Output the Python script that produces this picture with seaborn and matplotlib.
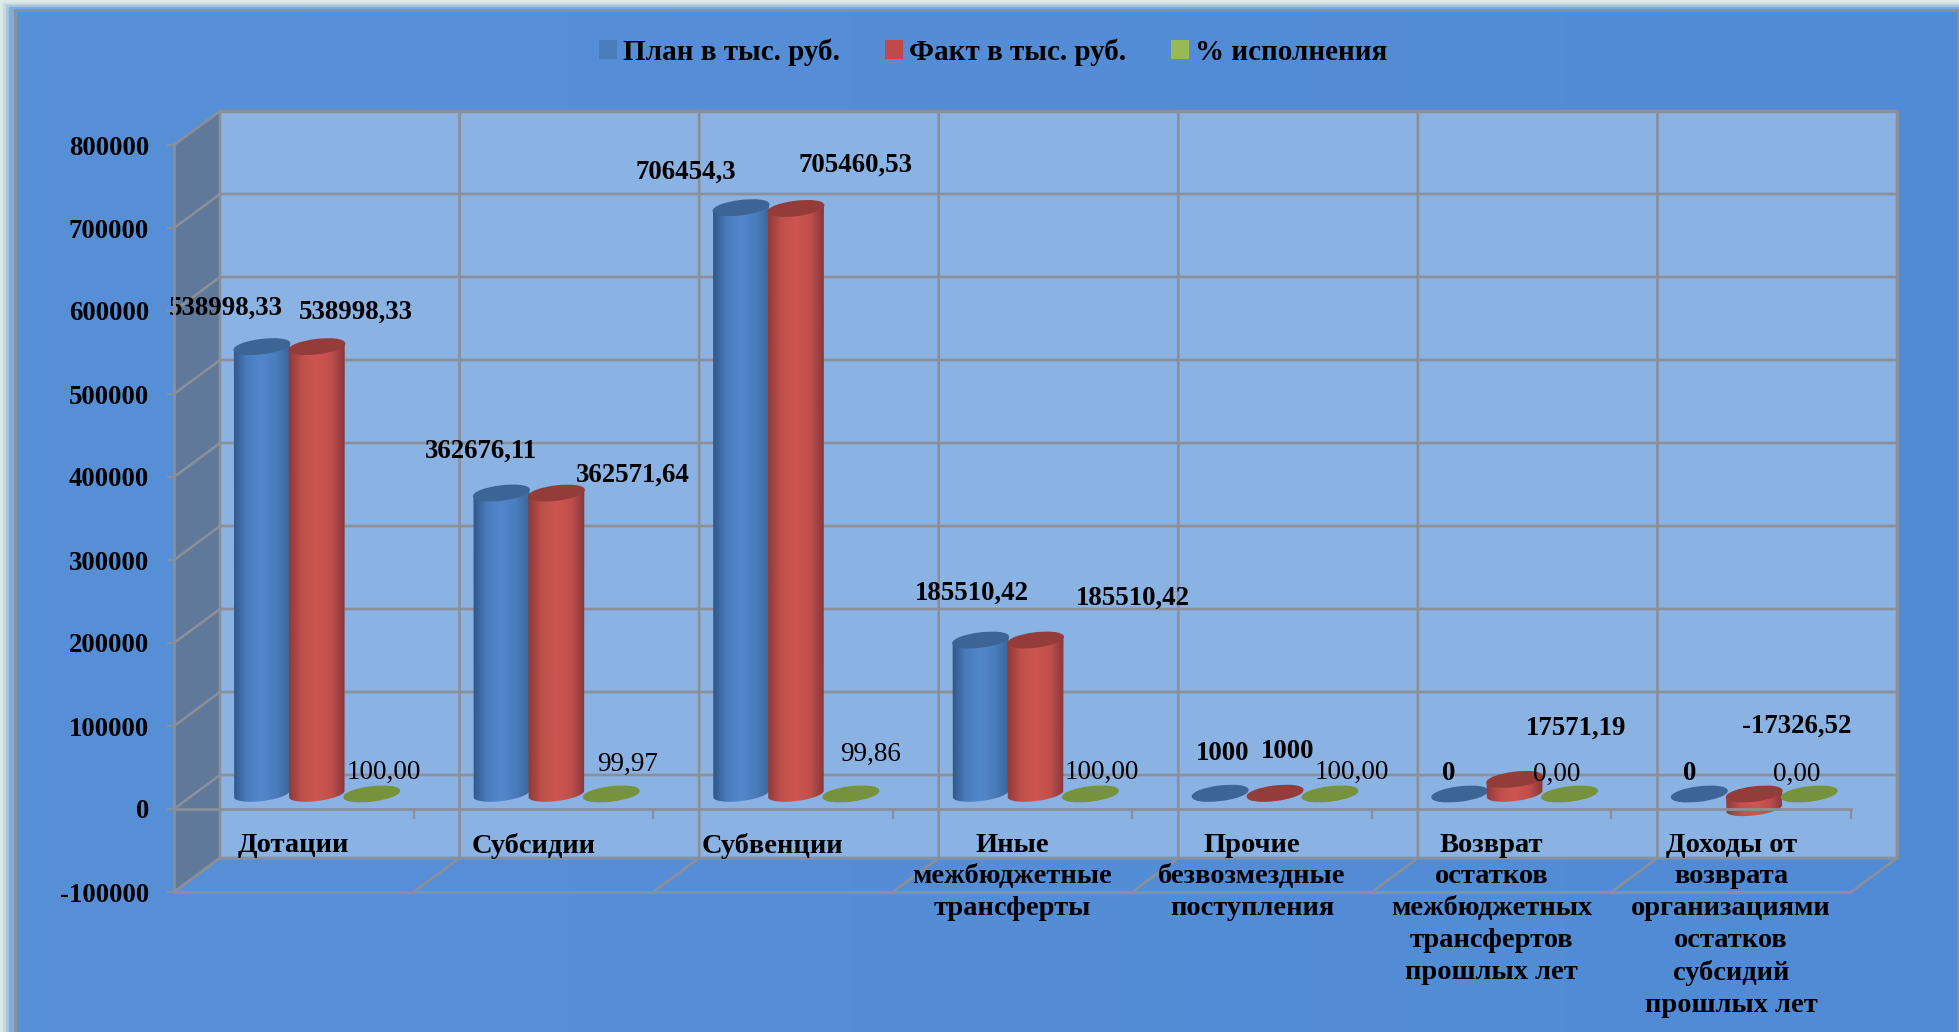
import numpy as np
import pandas as pd
import seaborn as sns
import matplotlib.pyplot as plt
from matplotlib.colors import LinearSegmentedColormap
from matplotlib.patches import Polygon, Ellipse, Rectangle

# данные
categories = ["Дотации", "Субсидии", "Субвенции", "Иные\nмежбюджетные\nтрансферты",
              "Прочие\nбезвозмездные\nпоступления",
              "Возврат\nостатков\nмежбюджетных\nтрансфертов\nпрошлых лет",
              "Доходы от\nвозврата\nорганизациями\nостатков\nсубсидий\nпрошлых лет"]
plan = [538998.33, 362676.11, 706454.3, 185510.42, 1000, 0, 0]
fact = [538998.33, 362571.64, 705460.53, 185510.42, 1000, 17571.19, -17326.52]
percent = [100.00, 99.97, 99.86, 100.00, 100.00, 0.00, 0.00]
series = ["План в тыс. руб.", "Факт в тыс. руб.", "% исполнения"]
y_ticks = [-100000, 0, 100000, 200000, 300000, 400000, 500000, 600000, 700000, 800000]

# подписи стоят вручную, как в исходной картинке (пиксели)
plan_label_xy = [(226, 308), (481, 451), (686, 172), (972, 593), (1223, 753), (1449, 773), (1690, 773)]
fact_label_xy = [(356, 312), (633, 475), (856, 165), (1133, 598), (1288, 751), (1576, 728), (1797, 726)]
pct_label_xy = [(384, 772), (628, 764), (871, 754), (1102, 772), (1352, 772), (1557, 774), (1797, 774)]

W, H = 1959, 1032
sns.set_theme(style="white")
plt.rcParams["font.family"] = ["Liberation Serif", "DejaVu Serif"]

df = pd.DataFrame({"cat": categories * 3,
                   "series": np.repeat(series, 7),
                   "value": plan + fact + percent})

fig = plt.figure(figsize=(W / 100, H / 100), dpi=100)

# слой с фоном, стенками и цилиндрами, координаты в пикселях (y вниз)
ov = fig.add_axes([0, 0, 1, 1], zorder=1)
ov.set_xlim(0, W)
ov.set_ylim(H, 0)
ov.axis("off")
ov.set_autoscale_on(False)

# передняя плоскость диаграммы
ax = fig.add_axes([174 / W, (H - 892) / H, 1677 / W, 747 / H], zorder=2)
ax.patch.set_visible(False)

legend_colors = ["#4a7ebb", "#be4b48", "#98b954"]
sns.barplot(data=df, x="cat", y="value", hue="series", order=categories, hue_order=series,
            palette=legend_colors, width=0.6875, saturation=1, ax=ax)
ax.set_xlim(-0.5, 6.5)
ax.set_ylim(-100000, 800000)
ax.set_xlabel("")
ax.set_ylabel("")
ax.set_yticks(y_ticks)
ax.set_yticklabels([str(v) for v in y_ticks], fontsize=19.3, fontweight="bold", color="black")
ax.tick_params(axis="y", length=5, width=1.6, color="#8a8f98", pad=13, left=True)
# set_position сбрасывает тики оси x, поэтому он идет первым
for s in ["top", "right"]:
    ax.spines[s].set_visible(False)
ax.spines["bottom"].set_position(("data", 0))
ax.spines["bottom"].set_color("#8a8f98")
ax.spines["bottom"].set_linewidth(2)
ax.spines["left"].set_color("#8a8f98")
ax.spines["left"].set_linewidth(2)
ax.set_xticks(np.arange(0.5, 7.5, 1), minor=True)
ax.set_xticks(range(7))
ax.set_xticklabels(categories)
ax.tick_params(axis="x", which="major", length=0, pad=17)
ax.tick_params(axis="x", which="minor", length=7, width=1.6, color="#8a8f98", bottom=True)
for lab in ax.get_xticklabels():
    lab.set_fontsize(20.5)
    lab.set_fontweight("bold")
    lab.set_color("black")
    lab.set_linespacing(1.36)

sns.move_legend(ax, "center", bbox_to_anchor=(993 / W, (H - 52) / H), bbox_transform=fig.transFigure,
                ncol=3, frameon=False, title=None, handlelength=0.62, handleheight=0.62,
                handletextpad=0.2, columnspacing=1.55, labelcolor="black",
                prop={"size": 21, "weight": "bold"})
for h in ax.get_legend().legend_handles:
    h.set_edgecolor("none")


def to_px(x, y):
    px, py = ax.transData.transform((x, y))
    return px, H - py


# смещения плоскостей относительно передней
BACK = (46, -34)
MID = (23, -15)
GRID = "#8a8f98"

# фон
ov.add_patch(Rectangle((0, 0), W, H, color="#dce9e4", zorder=0))
for i, c in enumerate(["#c6dbe2", "#a9c8e0", "#80abdc"]):
    ov.add_patch(Rectangle((3 + 3 * i, 3 + 2 * i), W, H, color=c, zorder=0.1))
bg_cmap = LinearSegmentedColormap.from_list("bg", ["#5890d8", "#518bd5"])
ov.imshow(np.linspace(0, 1, 256).reshape(1, -1), extent=(15, W, H, 10), cmap=bg_cmap,
          aspect="auto", zorder=0.2)
ov.plot([15, 15, W - 1, W - 1], [H, 10, 10, H], color=GRID, lw=2.2, zorder=0.3)

# стенки
x0, y_low = to_px(-0.5, -100000)
x1, _ = to_px(6.5, 0)
_, y_high = to_px(-0.5, 800000)
bx, by = BACK
ov.add_patch(Rectangle((x0 + bx, y_high + by), x1 - x0, y_low - y_high, color="#8ab2e2", zorder=1))
ov.add_patch(Polygon([(x0, y_high), (x0 + bx, y_high + by), (x0 + bx, y_low + by), (x0, y_low)],
                     color="#60789a", zorder=1))
for v in y_ticks:
    _, y = to_px(-0.5, v)
    ov.plot([x0, x0 + bx, x1 + bx], [y, y + by, y + by], color=GRID, lw=1.9, zorder=1.2)
for k in np.arange(-0.5, 7, 1):
    x, _ = to_px(k, 0)
    ov.plot([x, x + bx, x + bx], [y_low, y_low + by, y_high + by], color=GRID, lw=1.9, zorder=1.2)
ov.plot([x0, x1], [y_low, y_low], color=GRID, lw=2.4, zorder=1.2)
ov.plot([x1 + bx, x1 + bx], [y_high + by, y_low + by], color=GRID, lw=1.9, zorder=1.2)
ov.plot([x0 + bx, x1 + bx], [y_high + by, y_high + by], color=GRID, lw=2.4, zorder=1.2)
ax.spines["left"].set_bounds(-100000, 800000)

# цилиндры из столбиков seaborn
body_cmaps = [
    LinearSegmentedColormap.from_list("b", ["#2f5483", "#4a7cbc", "#5188cc", "#4a7cbc", "#3a6395"]),
    LinearSegmentedColormap.from_list("r", ["#8a3836", "#bf4f4b", "#cd5652", "#bf4f4b", "#85363a"]),
    LinearSegmentedColormap.from_list("g", ["#76923c", "#76923c"]),
]
top_colors = ["#3c6595", "#943c3a", "#76923c"]
TILT = np.deg2rad(-7)
bars = list(ax.patches)[:21]
for i, bar in enumerate(bars):
    n = i // 7
    left = bar.get_x()
    right = left + bar.get_width()
    v0, v1 = sorted((bar.get_y(), bar.get_y() + bar.get_height()))
    xa, y_bottom = to_px(left, v0)
    xb, y_top = to_px(right, v1)
    xa, xb = xa + MID[0], xb + MID[0]
    y_bottom, y_top = y_bottom + MID[1], y_top + MID[1]
    cx = (xa + xb) / 2
    a = (xb - xa) / 2 + 0.5
    b = 7
    t = np.linspace(0, np.pi, 40)
    ex = cx + a * np.cos(t) * np.cos(TILT) - b * np.sin(t) * np.sin(TILT)
    ey = y_bottom + a * np.cos(t) * np.sin(TILT) + b * np.sin(t) * np.cos(TILT)
    dy = a * np.sin(TILT)
    pts = [(cx - a, y_top - dy), (cx + a, y_top + dy)] + list(zip(ex, ey))
    zb = 2 + i * 0.01
    im = ov.imshow(np.linspace(0, 1, 128).reshape(1, -1),
                   extent=(xa - 2, xb + 2, y_bottom + 14, y_top - 10),
                   cmap=body_cmaps[n], aspect="auto", zorder=zb)
    clip = Polygon(pts, transform=ov.transData, fc="none", ec="none")
    ov.add_patch(clip)
    im.set_clip_path(clip)
    ov.add_patch(Ellipse((cx, y_top), 2 * a, 2 * b, angle=np.rad2deg(TILT),
                         color=top_colors[n], zorder=zb + 0.001))
for bar in ax.patches:
    bar.set_visible(False)

# подписи значений
for values, xy in [(plan, plan_label_xy), (fact, fact_label_xy)]:
    for v, (x, y) in zip(values, xy):
        ov.text(x, y, str(v).replace(".", ","), ha="center", va="center",
                fontsize=19.4, fontweight="bold", color="black", zorder=5)
for v, (x, y) in zip(percent, pct_label_xy):
    ov.text(x, y, f"{v:.2f}".replace(".", ","), ha="center", va="center",
            fontsize=19.5, color="black", zorder=5)

fig.savefig("out.png", dpi=100)
